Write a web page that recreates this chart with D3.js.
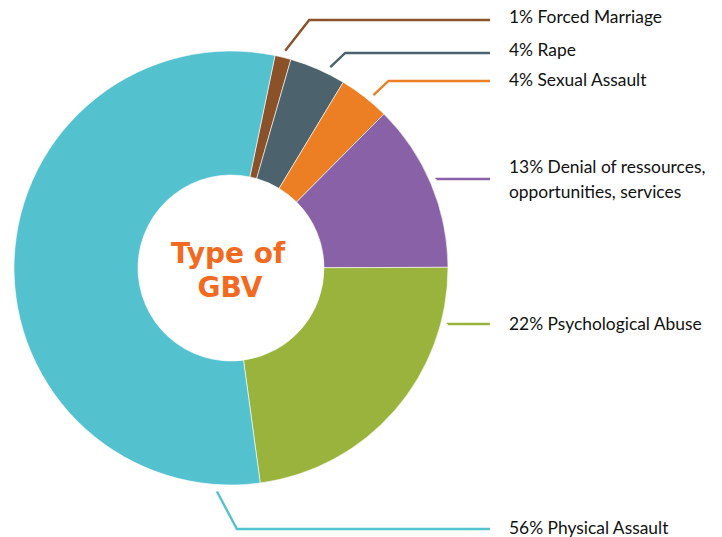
<!DOCTYPE html>
<html>
<head>
<meta charset="utf-8">
<script src="https://cdn.jsdelivr.net/npm/d3@7"></script>
<style>
  body { margin: 0; background: #fff; }
  svg text { font-family: "Gill Sans", Lato, "Open Sans", sans-serif; }
</style>
</head>
<body>
<div id="chartVis"></div>
<script>
  // data
  var categories = ["Forced Marriage", "Rape", "Sexual Assault",
                    "Denial of ressources, opportunities, services",
                    "Psychological Abuse", "Physical Assault"];
  var values = [1.2, 4.2, 3.8, 12.5, 22.9, 55.4];      // slice sizes
  var pctLabels = ["1%", "4%", "4%", "13%", "22%", "56%"];
  var labelLines = [["1% Forced Marriage"], ["4% Rape"], ["4% Sexual Assault"],
                    ["13% Denial of ressources,", "opportunities, services"],
                    ["22% Psychological Abuse"], ["56% Physical Assault"]];
  var colors = ["#8b5128", "#4c626c", "#ec7f24", "#8961a7", "#99b33d", "#54c1cf"];

  // leader lines (annotation layout)
  var leaderAngle = [14, 26.3, 39.5, 66.6, 104.5, 183.6];
  var leaderY = [20, 53, 81, 179, 324, 529];
  var elbowDx = [24, 15, 15, 0, 0, 20];

  var width = 722;
  var height = 537;
  var cx = 231, cy = 268;
  var outerR = 217, innerR = 93;

  var svg = d3.select("#chartVis")
    .append("svg")
    .attr("width", width)
    .attr("height", height);

  var pie = d3.pie()
    .sort(null)
    .value(function(d) { return d; })
    .startAngle(11.7 * Math.PI / 180)
    .endAngle((11.7 + 360) * Math.PI / 180);

  var arc = d3.arc().innerRadius(innerR).outerRadius(outerR);

  var g = svg.append("g").attr("transform", "translate(" + cx + "," + cy + ")");

  g.selectAll("path")
    .data(pie(values))
    .enter()
    .append("path")
    .attr("d", arc)
    .attr("fill", function(d, i) { return colors[i]; })
    .attr("stroke", "#fff")
    .attr("stroke-width", 0.6);

  // leaders
  var lineEnd = 490;
  for (let i = 0; i < values.length; i++) {
    let a = leaderAngle[i] * Math.PI / 180;
    let r = outerR + 7;
    let sx = cx + r * Math.sin(a);
    let sy = cy - r * Math.cos(a);
    let pts = [[sx, sy], [sx + elbowDx[i], leaderY[i]], [lineEnd, leaderY[i]]];
    svg.append("path")
      .attr("d", d3.line()(pts))
      .attr("fill", "none")
      .attr("stroke", colors[i])
      .attr("stroke-width", 2.4);
  }

  // labels
  var textX = 509;
  var textMid = [17, 50, 80, 167, 324, 528];
  for (let i = 0; i < labelLines.length; i++) {
    let t = svg.append("text")
      .attr("x", textX)
      .attr("y", textMid[i] + 6)
      .attr("font-size", 17.4)
      .attr("fill", "#111");
    labelLines[i].forEach(function(s, k) {
      t.append("tspan").attr("x", textX).attr("dy", k === 0 ? 0 : 25).text(s);
    });
  }

  // centre title
  svg.append("text")
    .attr("x", 228).attr("y", 263)
    .attr("text-anchor", "middle")
    .style("font-family", "'DejaVu Sans', Verdana, sans-serif")
    .attr("font-size", 28)
    .attr("font-weight", "bold")
    .attr("fill", "#f26a21")
    .text("Type of");
  svg.append("text")
    .attr("x", 230).attr("y", 297)
    .attr("text-anchor", "middle")
    .style("font-family", "'DejaVu Sans', Verdana, sans-serif")
    .attr("font-size", 28)
    .attr("font-weight", "bold")
    .attr("fill", "#f26a21")
    .text("GBV");
</script>
</body>
</html>
